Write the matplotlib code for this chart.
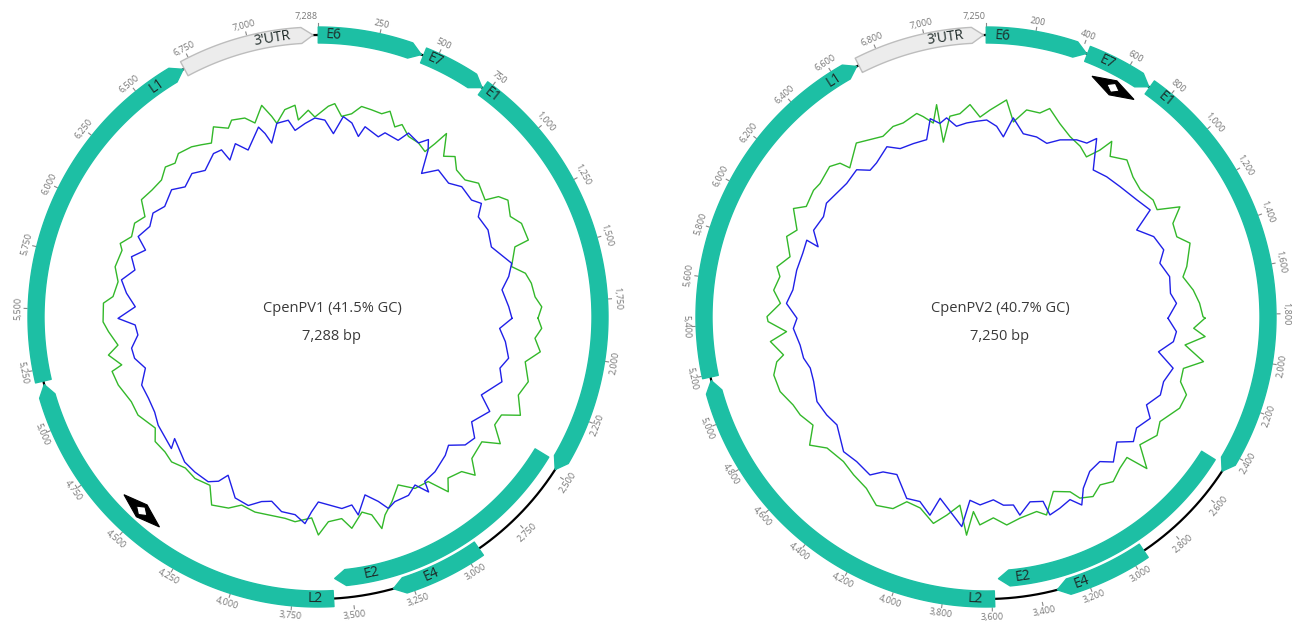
import numpy as np
import matplotlib.pyplot as plt
from matplotlib.patches import Polygon

plt.rcParams['font.family'] = ['Open Sans', 'DejaVu Sans']

# genome 1 (CpenPV1)
len1 = 7288
step1 = 250
names1 = ['E6', 'E7', 'E1', 'E2', 'E4', 'L2', 'L1', "3'UTR"]
starts1 = [1, 445, 725, 2455, 2940, 3580, 5200, 6715]
ends1 = [435, 720, 2485, 3570, 3330, 5185, 6710, 7268]
tracks1 = [0, 0, 0, 1, 0, 0, 0, 0]
labelpos1 = [65, 496, 771, 3404, 3162, 3656, 6584, 7100]
ori1 = 4500

# genome 2 (CpenPV2)
len2 = 7250
step2 = 200
names2 = ['E6', 'E7', 'E1', 'E2', 'E4', 'L2', 'L1', "3'UTR"]
starts2 = [1, 425, 715, 2455, 2940, 3590, 5190, 6710]
ends2 = [420, 710, 2480, 3570, 3330, 5175, 6700, 7240]
tracks2 = [0, 0, 0, 1, 0, 0, 0, 0]
labelpos2 = [70, 515, 798, 3464, 3224, 3670, 6592, 7083]
ori2 = 584

# GC traces: angle on the map (deg) and deviation from the baseline circle
g1_deg = [90.3, 92.9, 95.6, 98.9, 102.2, 107.1, 111.3, 115.9, 118.1, 121.4,
          124.8, 127.3, 132.6, 135.2, 137.1, 141.1, 143.3, 146.2, 150.5, 154.5,
          158.2, 161.3, 163.2, 164.8, 167.3, 170.9, 173.3, 177.1, 179.9, 181.8,
          186.4, 189.3, 194.1, 197.9, 202.1, 205.1, 209.5, 212.7, 217.3, 221.3,
          225.3, 228.6, 232.6, 235.7, 241.4, 245.6, 251.2, 255.2, 256.3, 259.7,
          262, 266, 268.7,
          273.7, 275.7, 280.0, 283.9, 288.8, 290.4, 293.3, 297.1, 300.1, 303.6,
          307.4, 311.2, 314.5, 317.1, 319.5, 323.4, 325.9, 328.5, 331.2, 334.6,
          336.3, 339.8, 342, 345.1, 347, 348, 350.9, 353.8, 354.3, 357.3,
          359.1, 2.8, 4.5, 6.7, 9.4, 11.7, 14.5, 17.4, 19.3, 22,
          23.6, 26.6, 30, 32.9, 34, 35, 38, 40.5, 43.3, 47,
          50.2, 55, 56.3, 58.4, 62.4, 65.3, 69.9, 70.4, 75.4, 78.1,
          81, 84.7, 87.4]
g1_val = [20, 24, 18, 25, 12, 20, 15, 25, 8, 7,
          22, 6, 9, 23, 11, 7, 18, -2, -3, -14,
          -1, 9, 21, 5, 0, 14, 3, 5, 18, 1,
          6, 4, 4, 5, 3, 11, 16, 0, 3, 1,
          6, 4, 5, -3, 5, 5, 11, 13, 2, 13,
          2, 10, 15,
          15, 6, 3, 9, 7, 11, 3, 6, 0, 12,
          9, 8, 14, 10, 15, 12, 8, 4, 17, 9,
          15, 12, 4, 19, 6, -2, 10, 13, -2, 7,
          0, 11, 14, 2, 6, 15, 14, 13, 18, 5,
          10, 2, 1, -3, 9, 24, 4, 11, 2, 1,
          9, 4, 17, 23, 17, 24, 24, 9, 0, 12,
          16, 18, 24]
b1_deg = [90.4, 93.6, 97.5, 102.2, 105.7, 109.4, 115.5, 118.8, 124.3, 127.7,
          131, 134.5, 137.4, 142.9, 147, 147.7, 150, 153.1, 157.4, 159.8,
          161.9, 165.2, 168.5, 169.8, 172.9, 176.9, 179.9, 181.9, 183.6, 186.6,
          190.6, 194.1, 197, 200.3, 204.6, 209.6, 211.2, 213.7, 218.5, 222.6,
          229.7, 228.1, 235.9, 239.8, 244.4, 248.9, 253.5, 257.3, 260.5, 264.3,
          267.5, 269.6,
          273.2, 277.1, 280.7, 284.4, 287.9, 291.2, 294.1, 298.3, 302.2, 305.8,
          311, 314.4, 318.7, 322.4, 327.4, 330, 330.7, 334.5, 337.3, 342.6,
          343.9, 345.1, 348, 351.4, 353, 356.2, 359.1, 2, 4.8, 7.2,
          9.9, 12.6, 13.9, 18.5, 20, 24.4, 26.2, 30, 31.9, 33.4,
          35.8, 39.3, 44.3, 47.8, 52.7, 55.2, 58, 62.9, 68, 74.5,
          78, 81.6, 86.9]
b1_val = [-6, -18, -11, -5, -11, -5, -19, -4, -14, -2,
          -5, -17, -12, -6, -4, 7, -6, 0, 0, 4,
          -6, -16, 2, -9, -7, -12, -15, -5, 7, -1,
          -2, -10, -7, 1, -1, -18, -8, -2, -2, -3,
          -12, -3, -7, -11, -12, -11, -20, -12, -11, -19,
          -17, 0,
          -17, -7, 0, -11, -4, -15, -3, -9, -5, -11,
          -6, -14, -9, -15, -6, -7, -20, -8, -19, -1,
          -9, -20, -2, -1, -12, -6, -1, -3, -16, 2,
          -3, -15, -4, -10, -4, -6, 5, 1, 9, 0,
          -23, -10, -13, -6, -7, -1, -11, -9, -13, 1,
          -5, -14, -9]
g2_deg = [90.3, 93.1, 95.1, 98, 101.6, 104.6, 108.4, 111.2, 115.2, 121,
          124.7, 129.7, 133.3, 134.9, 138.5, 142.3, 145.8, 149.2, 152.6, 154.3,
          158.9, 163, 165.4, 170.4, 174.3, 177.9, 181.7, 183.7, 185.1, 187.9,
          191.2, 194.3, 199, 203.2, 205.9, 210.2, 214.9, 220, 224.6, 230.5,
          234, 238, 242.2, 245.5, 250.1, 254.7, 257.9, 259.4, 263.5, 265.8,
          268.8,
          270.1, 273.8, 277.2, 281.1, 283.5, 287.1, 292, 294.7, 299.4, 301.6,
          306.3, 308.8, 313.9, 316.5, 317.6, 323.3, 326.8, 330.3, 334, 336.9,
          341.2, 342.6, 344.8, 346.9, 346.3, 349.8, 352.7, 355.7, 358.3, 1.1,
          5.4, 8, 11.1, 14.8, 17, 20.9, 25, 28.9, 32.1, 34.3,
          35.6, 37.7, 41.9, 46.4, 50.5, 55, 57.9, 60.4, 63.4, 67.2,
          70.1, 75.9, 78.5, 82.6, 86.3, 89.9]
g2_val = [19, 8, 20, 1, 22, 4, 5, 15, 14, 3,
          8, 0, 21, -1, 2, 8, 3, 9, 4, -6,
          -13, 7, 1, 4, 9, 1, 8, -5, 19, -10,
          2, 13, 2, 1, 13, 18, 9, 6, 3, 6,
          18, 4, 10, 12, 19, 20, 14, 6, 17, 0,
          18,
          19, 6, 14, 10, 15, 5, 15, 8, 21, 11,
          14, 13, 17, 12, 2, 17, 12, 8, 12, 11,
          15, 10, 1, 18, -20, 4, 5, 13, 0, 7,
          18, -3, 11, 11, 18, 7, -1, -5, -11, 2,
          16, 3, 11, 3, 0, 4, 2, 23, 9, 7,
          17, 7, 1, 9, 14, 17]
b2_deg = [90.4, 94.4, 97.5, 101.4, 105.3, 110, 114.1, 118.7, 121.7, 126.4,
          130.2, 133.7, 138.7, 141.8, 146.1, 150.4, 153, 155.3, 158.9, 162.1,
          162.8, 166.6, 170.3, 171.7, 174.7, 177.7, 181.8, 185, 186.6, 189.4,
          194.2, 195.8, 199.7, 203.6, 209.5, 213.6, 216.3, 221.8, 226.6, 234.1,
          238.4, 243.4, 249.5, 253.8, 257.3, 261.4, 266.6, 269.6,
          273.9, 278, 283.9, 289.2, 293.2, 292.7, 296.7, 301.7, 305.5, 309.6,
          313.8, 318.7, 321.7, 324.6, 329.8, 333, 337.3, 341.5, 344.3, 346.6,
          348.8, 351.2, 354.3, 357.3, 0.2, 3.2, 5.5, 7.8, 11.5, 15.7,
          19.3, 22.7, 27.1, 30.1, 31.8, 36.1, 40.7, 45.8, 52.2, 56.9,
          60, 64.4, 69.3, 72.8, 77.6, 82.7, 85.9]
b2_val = [-18, -9, -11, -24, -6, -11, -9, -17, -7, -13,
          -7, -19, -7, -16, -14, -3, 11, 1, 5, 8,
          -7, -10, 1, -10, -11, -17, -12, -16, 11, 1,
          -13, 6, -4, -2, -19, -14, -4, -6, -4, -16,
          -13, -11, -16, -17, -13, -12, -7, -11,
          0, -5, -5, -6, -5, -18, -7, -9, -4, -6,
          -7, -4, -13, -11, -3, -11, -12, -13, 6, -1,
          3, -7, -5, -4, -3, -9, -19, 1, -13, -13,
          -16, -8, -1, 1, 10, -18, -15, -13, -9, -4,
          -26, -14, -10, -18, -12, -14, -9]

TEAL = '#1dbfa4'
R_OUT = 290
R_MAIN = 282
R_INNER = 262
HW = 8
R_GC = 200


def to_xy(cx, cy, r, deg):
    t = np.radians(deg)
    return cx + r * np.sin(t), cy - r * np.cos(t)


def text_rot(deg):
    deg = deg % 360
    if 90 < deg < 270:
        return 180 - deg
    return -deg


def draw_map(ax, cx, cy, length, step, names, starts, ends, tracks, labelpos, ori,
             gdeg, gval, bdeg, bval, title):
    # backbone
    th = np.linspace(0, 360, 721)
    ax.plot(*to_xy(cx, cy, R_MAIN, th), color='black', lw=1.6, zorder=1)

    # features
    for name, s, e, tr, lp in zip(names, starts, ends, tracks, labelpos):
        r = R_MAIN if tr == 0 else R_INNER
        a0 = s / length * 360
        a1 = e / length * 360
        tip = min(2.4, (a1 - a0) / 2)
        ta = np.linspace(a0, a1 - tip, 120)
        xo, yo = to_xy(cx, cy, r + HW, ta)
        xi, yi = to_xy(cx, cy, r - HW, ta[::-1])
        xt, yt = to_xy(cx, cy, r, a1)
        pts = np.column_stack([np.r_[xo, xt, xi], np.r_[yo, yt, yi]])
        utr = name == "3'UTR"
        ax.add_patch(Polygon(pts, closed=True, fc='#ececec' if utr else TEAL,
                             ec='#bdbdbd' if utr else TEAL, lw=1.0,
                             joinstyle='round', zorder=3))
        la = lp / length * 360
        lx, ly = to_xy(cx, cy, r, la)
        ax.text(lx, ly, name, rotation=text_rot(la), rotation_mode='anchor',
                ha='center', va='center', fontsize=10, color='#1e2a28', zorder=4)

    # ticks
    ticks = [t for t in range(step, length, step) if length - t > step * 0.3] + [length]
    for t in ticks:
        a = t / length * 360
        x0, y0 = to_xy(cx, cy, R_OUT + 1, a)
        x1, y1 = to_xy(cx, cy, R_OUT + 4, a)
        ax.plot([x0, x1], [y0, y1], color='#888888', lw=0.8, zorder=2)
        lx, ly = to_xy(cx, cy, R_OUT + 10, a)
        ha = 'right' if t == length else 'center'
        ax.text(lx, ly, f'{t:,}', rotation=text_rot(a), rotation_mode='anchor',
                ha=ha, va='center', fontsize=6.5, color='#777777')

    # origin marker
    a = np.radians(ori / length * 360)
    px, py = to_xy(cx, cy, 262, np.degrees(a))
    tv = np.array([np.cos(a), np.sin(a)])
    nv = np.array([np.sin(a), -np.cos(a)])
    p = np.array([px, py])
    outer = [p + 24 * tv, p + 8 * nv, p - 24 * tv, p - 8 * nv]
    inner = [p + 7 * tv, p + 5 * nv, p - 7 * tv, p - 5 * nv]
    ax.add_patch(Polygon(outer, closed=True, fc='black', ec='black', lw=0.8, zorder=3))
    ax.add_patch(Polygon(inner, closed=True, fc='white', ec='black', lw=0.8, zorder=4))

    # GC traces
    for dg, vl, col in [(gdeg, gval, '#33b82a'), (bdeg, bval, '#2020e8')]:
        d = np.r_[dg, dg[0]]
        v = np.r_[vl, vl[0]]
        ax.plot(*to_xy(cx, cy, R_GC + v, d), color=col, lw=1.0, zorder=2)

    # centre text
    ax.text(cx + 14, cy - 9, title, ha='center', va='center', fontsize=10.5, color='#3a3a3a')
    ax.text(cx + 14, cy + 20, f'{length:,} bp', ha='center', va='center',
            fontsize=10.5, color='#3a3a3a')


fig = plt.figure(figsize=(12.92, 6.26), dpi=100)
ax = fig.add_axes([0, 0, 1, 1])
ax.set_xlim(0, 1292)
ax.set_ylim(626, 0)
ax.axis('off')

draw_map(ax, 318, 317, len1, step1, names1, starts1, ends1, tracks1, labelpos1, ori1,
         g1_deg, g1_val, b1_deg, b1_val, 'CpenPV1 (41.5% GC)')
draw_map(ax, 986, 317, len2, step2, names2, starts2, ends2, tracks2, labelpos2, ori2,
         g2_deg, g2_val, b2_deg, b2_val, 'CpenPV2 (40.7% GC)')

fig.savefig('out.png', dpi=100)
